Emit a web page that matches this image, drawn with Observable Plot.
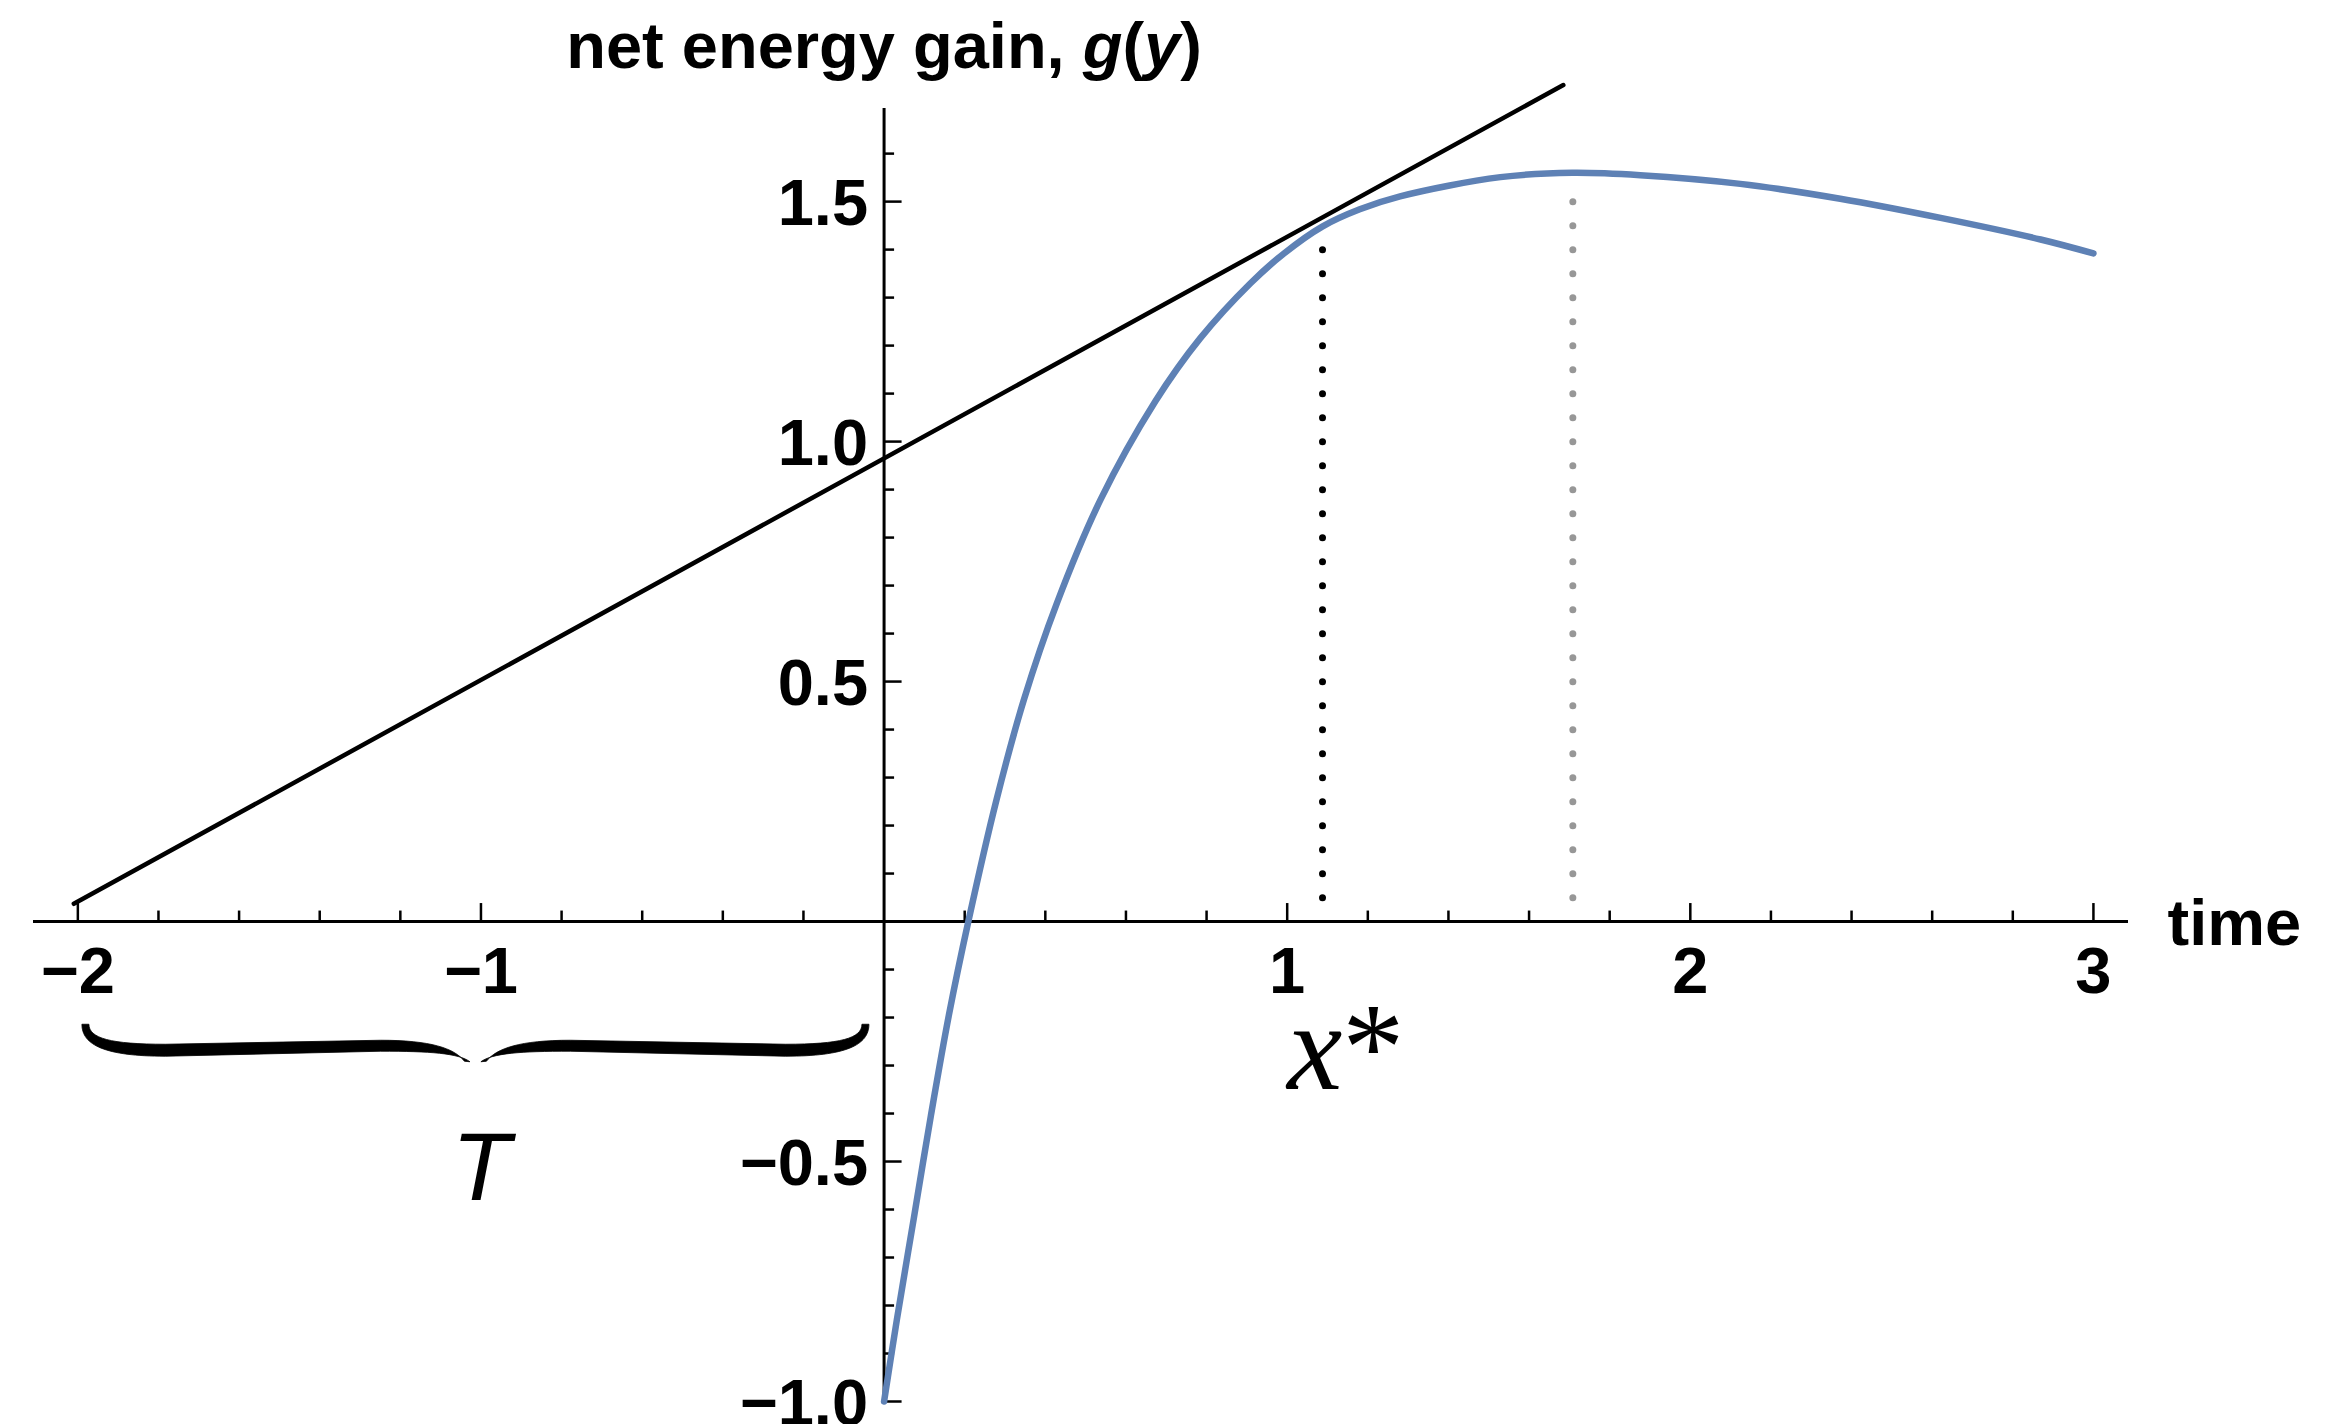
<!DOCTYPE html>
<html>
<head>
<meta charset="utf-8">
<script src="https://cdn.jsdelivr.net/npm/d3@7"></script>
<script src="https://cdn.jsdelivr.net/npm/@observablehq/plot@0.6"></script>
<style>
  html, body { margin: 0; padding: 0; background: #ffffff; }
  #chart svg { display: block; }
</style>
</head>
<body>
<div id="chart"></div>
<script>
// ---- data ----
const curveX = [0, 0.032, 0.074, 0.116, 0.161, 0.209, 0.279, 0.347, 0.429, 0.537, 0.673, 0.784, 0.909, 0.992, 1.087, 1.18, 1.28, 1.529, 1.707, 1.876, 2.124, 2.372, 2.621, 2.869, 3.0];
const curveY = [-1.0, -0.828, -0.617, -0.405, -0.194, 0.0, 0.254, 0.4625, 0.664, 0.879, 1.084, 1.215, 1.330, 1.392, 1.448, 1.484, 1.511, 1.551, 1.560, 1.555, 1.537, 1.506, 1.466, 1.421, 1.392];

const tangentX = [-2.01, 1.685];
const tangentY = [0.037, 1.743];

const xStar = 1.0876;      // black dotted line (x*)
const xPeak = 1.7086;      // grey dotted line (maximum)
const dotBottom = 0.0485;
const xStarTop = 1.401;
const xPeakTop = 1.502;

const xMajor = [-2, -1, 1, 2, 3];
const xMajorLabels = ["\u22122", "\u22121", "1", "2", "3"];
const xMinor = [-1.8, -1.6, -1.4, -1.2, -0.8, -0.6, -0.4, -0.2, 0.2, 0.4, 0.6, 0.8, 1.2, 1.4, 1.6, 1.8, 2.2, 2.4, 2.6, 2.8];

const yMajor = [-1, -0.5, 0.5, 1, 1.5];
const yMajorLabels = ["\u22121.0", "\u22120.5", "0.5", "1.0", "1.5"];
const yMinor = [-0.9, -0.8, -0.7, -0.6, -0.4, -0.3, -0.2, -0.1, 0.1, 0.2, 0.3, 0.4, 0.6, 0.7, 0.8, 0.9, 1.1, 1.2, 1.3, 1.4, 1.6];

const xDomain = [-2.11, 3.087];
const yDomain = [-1.0, 1.694];

const titleText = "net energy gain, g(y)";
const xAxisLabel = "time";
const braceSpan = [-1.98, -0.045];   // the interval T, drawn as a brace
const braceTop = -0.215;
const labelT = {text: "T", x: -1.0, y: -0.581};
const labelXStar = {text: "x*", x: 1.0, y: -0.348};

// ---- build ----
const curve = curveX.map((x, i) => ({x, y: curveY[i]}));
const tangent = tangentX.map((x, i) => ({x, y: tangentY[i]}));
const FS = 65;

function braceMark(index, scales, values, dimensions, context) {
  const L = scales.x(braceSpan[0]);
  const R = scales.x(braceSpan[1]);
  const M = (L + R) / 2;
  const y0 = scales.y(braceTop);
  function half(E, s) {
    return `M ${E - 3.5 * s} ${y0}` +
      ` C ${E - 3.5 * s} ${y0 + 21} ${E + 20 * s} ${y0 + 32} ${E + 80 * s} ${y0 + 32}` +
      ` L ${M - 95 * s} ${y0 + 27}` +
      ` C ${M - 45 * s} ${y0 + 27} ${M - 17 * s} ${y0 + 29} ${M - 5.5 * s} ${y0 + 37.5}` +
      ` L ${M - 11 * s} ${y0 + 37}` +
      ` C ${M - 21 * s} ${y0 + 24} ${M - 45 * s} ${y0 + 16} ${M - 95 * s} ${y0 + 16}` +
      ` L ${E + 80 * s} ${y0 + 20}` +
      ` C ${E + 25 * s} ${y0 + 20} ${E + 3.5 * s} ${y0 + 14} ${E + 3.5 * s} ${y0} Z`;
  }
  const g = document.createElementNS("http://www.w3.org/2000/svg", "g");
  g.setAttribute("aria-label", "brace");
  const p = document.createElementNS("http://www.w3.org/2000/svg", "path");
  p.setAttribute("d", half(L, 1) + " " + half(R, -1));
  p.setAttribute("fill", "black");
  p.setAttribute("stroke", "black");
  p.setAttribute("stroke-width", "0.8");
  g.appendChild(p);
  return g;
}

const chart = Plot.plot({
  width: 2350,
  height: 1424,
  marginLeft: 33,
  marginRight: 222,
  marginTop: 108,
  marginBottom: 23,
  style: {
    fontFamily: "'Liberation Sans', Arial, sans-serif",
    fontSize: FS + "px",
    fontWeight: "bold",
    background: "#ffffff",
    color: "black",
    overflow: "visible"
  },
  x: {domain: xDomain, axis: null},
  y: {domain: yDomain, axis: null},
  marks: [
    // axes through the origin
    Plot.ruleY([0], {stroke: "black", strokeWidth: 3}),
    Plot.ruleX([0], {stroke: "black", strokeWidth: 3}),
    // x ticks (upwards)
    Plot.ruleX(xMajor, {x: d => d, y1: 0, y2: 0, insetBottom: 18, stroke: "black", strokeWidth: 2.5}),
    Plot.ruleX(xMinor, {x: d => d, y1: 0, y2: 0, insetBottom: 10.5, stroke: "black", strokeWidth: 2.5}),
    // y ticks (rightwards)
    Plot.ruleY(yMajor, {y: d => d, x1: 0, x2: 0, insetLeft: 18, stroke: "black", strokeWidth: 2.5}),
    Plot.ruleY(yMinor, {y: d => d, x1: 0, x2: 0, insetLeft: 10.5, stroke: "black", strokeWidth: 2.5}),
    // tick labels
    Plot.text(xMajor, {x: d => d, y: 0, text: (d, i) => xMajorLabels[i], dy: 71.5, lineAnchor: "bottom", textAnchor: "middle", fontSize: FS, fontWeight: "bold", fill: "black"}),
    Plot.text(yMajor, {x: 0, y: d => d, text: (d, i) => yMajorLabels[i], dx: -16, dy: 23, lineAnchor: "bottom", textAnchor: "end", fontSize: FS, fontWeight: "bold", fill: "black"}),
    // axis labels
    Plot.text([titleText], {x: 0, y: yDomain[1], text: d => d, dy: -41, lineAnchor: "bottom", textAnchor: "middle", fontSize: FS, fontWeight: "bold", fill: "black"}),
    Plot.text([xAxisLabel], {x: xDomain[1], y: 0, text: d => d, dx: 39, dy: 23, lineAnchor: "bottom", textAnchor: "start", fontSize: FS, fontWeight: "bold", fill: "black"}),
    // tangent line
    Plot.line(tangent, {x: "x", y: "y", stroke: "black", strokeWidth: 4.5}),
    // dotted verticals
    Plot.ruleX([xStar], {x: d => d, y1: dotBottom, y2: xStarTop, stroke: "black", strokeWidth: 7, strokeLinecap: "round", strokeDasharray: "0 24"}),
    Plot.ruleX([xPeak], {x: d => d, y1: dotBottom, y2: xPeakTop, stroke: "#979797", strokeWidth: 7, strokeLinecap: "round", strokeDasharray: "0 24"}),
    // net energy gain curve
    Plot.line(curve, {x: "x", y: "y", curve: "catmull-rom", stroke: "#5E81B5", strokeWidth: 6.5}),
    // brace and annotations
    braceMark,
    Plot.text([labelT], {x: "x", y: "y", text: "text", textAnchor: "middle", lineAnchor: "bottom", fontFamily: "'Liberation Sans', Arial, sans-serif", fontStyle: "italic", fontWeight: "normal", fontSize: 96, fill: "black"}),
    Plot.text([labelXStar], {x: "x", y: "y", text: "text", textAnchor: "start", lineAnchor: "bottom", fontFamily: "'Liberation Serif', 'Times New Roman', serif", fontWeight: "normal", fontSize: 124, fill: "black"})
  ]
});

// mixed italic / upright runs inside a text element, found by its content
function richText(svg, content, parts) {
  const t = Array.from(svg.querySelectorAll("text")).find(el => el.textContent === content);
  if (!t) return;
  t.textContent = "";
  for (const [s, style] of parts) {
    const ts = document.createElementNS("http://www.w3.org/2000/svg", "tspan");
    ts.textContent = s;
    ts.setAttribute("font-style", style);
    ts.style.fontStyle = style;
    t.appendChild(ts);
  }
}
richText(chart, titleText, [["net energy gain, ", "normal"], ["g", "italic"], ["(", "normal"], ["y", "italic"], [")", "normal"]]);
richText(chart, labelXStar.text, [["x", "italic"], ["*", "normal"]]);

document.getElementById("chart").appendChild(chart);
</script>
</body>
</html>
